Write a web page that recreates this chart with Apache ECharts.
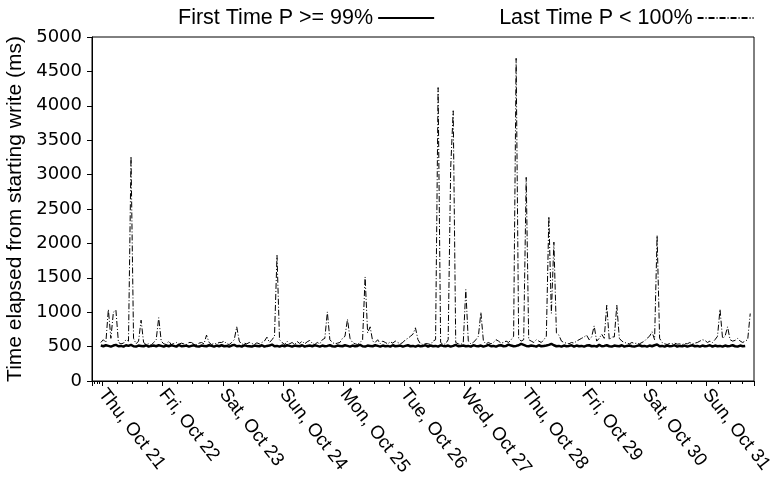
<!DOCTYPE html>
<html>
<head>
<meta charset="utf-8">
<script src="https://cdn.jsdelivr.net/npm/echarts@6/dist/echarts.min.js"></script>
<style>
html,body{margin:0;padding:0;background:#fff;}
#chart{width:772px;height:484px;}
</style>
</head>
<body>
<div id="chart"></div>
<script>
// ---- data (hourly samples starting Wed Oct 20 2010, 23:30) ----
const seriesNames = ['First Time P >= 99%', 'Last Time P < 100%'];
const dayLabels = ['Thu, Oct 21','Fri, Oct 22','Sat, Oct 23','Sun, Oct 24','Mon, Oct 25','Tue, Oct 26','Wed, Oct 27','Thu, Oct 28','Fri, Oct 29','Sat, Oct 30','Sun, Oct 31'];
const yTicks = [0,500,1000,1500,2000,2500,3000,3500,4000,4500,5000];

const firstTimeP99 = [
  515,505,520,510,500,515,525,505,510,500,520,510,525,505,500,515,510,505,520,500,510,515,505,520,
  510,500,515,505,520,510,500,525,505,510,515,500,510,520,505,500,515,510,505,520,510,500,515,505,
  520,505,510,500,515,525,505,510,500,520,510,505,500,515,510,505,520,500,510,515,530,505,510,500,
  515,505,520,510,500,515,510,505,520,500,510,515,505,520,510,500,515,505,510,520,505,500,515,510,
  505,520,510,500,515,505,510,525,505,500,515,510,505,520,510,500,515,505,510,500,520,505,510,515,
  500,510,520,505,510,500,515,505,510,520,500,515,505,510,500,520,510,505,515,500,510,525,505,510,
  515,505,510,500,520,510,505,515,500,510,525,505,510,500,515,520,505,510,530,515,505,510,520,540,
  525,510,505,515,510,500,520,505,510,515,525,540,520,505,510,500,515,505,510,520,500,515,505,510,
  500,515,520,505,510,500,525,505,510,520,505,500,515,510,505,520,500,510,515,505,500,510,520,505,
  510,500,515,505,520,530,505,510,500,515,505,510,520,500,510,505,515,500,510,520,505,510,500,515,
  505,510,520,500,515,505,510,500,515,505,510,520,505,500,515,505,510
];

const lastTimeP100 = [
  560,600,560,1040,620,1000,1030,560,540,550,600,580,3265,620,540,580,884,560,530,540,520,560,600,920,
  580,540,530,580,530,545,560,535,550,540,530,560,560,535,530,550,560,540,667,560,530,545,540,560,
  560,580,540,530,560,600,787,580,530,550,540,560,545,530,555,540,560,580,637,560,600,650,1826,600,
  560,530,580,540,560,530,575,545,580,540,570,590,550,530,560,540,600,620,1004,600,560,540,550,560,
  620,650,898,620,560,540,530,560,600,1512,700,787,580,560,600,540,580,560,540,570,550,580,560,540,
  560,600,620,650,680,773,600,540,530,545,540,530,580,600,4265,560,530,540,600,3100,3928,560,540,530,
  560,1329,580,540,560,600,650,996,580,540,560,540,560,600,580,550,560,580,560,600,650,4690,620,580,
  600,2960,600,580,560,600,580,560,600,650,2391,985,2019,700,667,580,560,550,540,560,550,580,600,620,
  640,667,600,640,801,580,620,680,620,1101,600,640,640,1101,620,580,560,550,540,560,545,550,540,560,
  580,620,650,715,600,2116,620,560,540,530,545,540,550,535,540,530,545,540,560,540,550,560,580,600,
  590,560,580,560,600,650,1043,620,650,787,600,580,590,620,580,560,580,600,981
];

// ---- build ----
const HOUR = 3600 * 1000;
const t0 = new Date(2010, 9, 20, 23, 30).getTime();
const day0 = new Date(2010, 9, 21, 0, 0).getTime();
const toPairs = arr => arr.map((v, i) => [t0 + i * HOUR, v]);

const chart = echarts.init(document.getElementById('chart'), null, {renderer: 'canvas'});
const fontMain = '"Liberation Sans", Arial, sans-serif';

chart.setOption({
  animation: false,
  backgroundColor: '#fff',
  grid: {
    left: 92, right: 18, top: 37, bottom: 103,
    show: true, borderColor: '#000', borderWidth: 1,
    containLabel: false, outerBoundsMode: 'none'
  },
  legend: {
    top: 2, left: 173, itemGap: 64, align: 'right',
    itemWidth: 56, itemHeight: 10,
    data: seriesNames,
    itemStyle: {opacity: 0, color: 'transparent', borderColor: 'transparent'},
    textStyle: {fontFamily: fontMain, fontSize: 21.5, color: '#000'}
  },
  xAxis: {
    type: 'time',
    min: new Date(2010, 9, 20, 20, 0).getTime(),
    max: new Date(2010, 9, 31, 19, 0).getTime(),
    minInterval: 24 * HOUR,
    maxInterval: 24 * HOUR,
    splitLine: {show: false},
    axisLine: {show: true, lineStyle: {color: '#000', width: 1}},
    axisTick: {show: true, length: 5, lineStyle: {color: '#000'}},
    minorTick: {show: true, splitNumber: 4, length: 3, lineStyle: {color: '#000'}},
    axisLabel: {
      rotate: -52, margin: 10, color: '#000',
      fontFamily: fontMain, fontSize: 18.5,
      showMinLabel: false, showMaxLabel: false,
      formatter: function (value) {
        const d = new Date(value);
        if (d.getHours() !== 0 || d.getMinutes() !== 0) return '';
        const idx = Math.round((value - day0) / (24 * HOUR));
        return dayLabels[idx] || '';
      }
    }
  },
  yAxis: {
    type: 'value',
    min: yTicks[0], max: yTicks[yTicks.length - 1], interval: 500,
    name: 'Time elapsed from starting write (ms)',
    nameLocation: 'middle', nameGap: 60,
    nameTextStyle: {fontFamily: fontMain, fontSize: 21, color: '#000'},
    splitLine: {show: false},
    axisLine: {show: true, lineStyle: {color: '#000', width: 1}},
    axisTick: {show: true, length: 5, lineStyle: {color: '#000'}},
    axisLabel: {
      margin: 10, color: '#000', fontFamily: '"DejaVu Sans", sans-serif', fontSize: 18,
      formatter: v => String(v)
    }
  },
  series: [
    {
      name: seriesNames[0], type: 'line', symbol: 'none', z: 3,
      data: toPairs(firstTimeP99),
      lineStyle: {color: '#000', width: 2.5, type: 'solid'},
      itemStyle: {color: '#000'}
    },
    {
      name: seriesNames[1], type: 'line', symbol: 'none', z: 2,
      data: toPairs(lastTimeP100),
      lineStyle: {color: '#000', width: 1, type: [6, 2, 1, 2]},
      itemStyle: {color: '#000'}
    }
  ]
});
</script>
</body>
</html>
